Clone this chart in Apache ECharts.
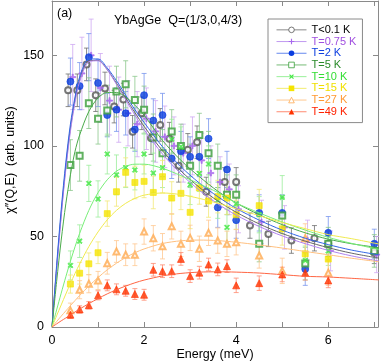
<!DOCTYPE html>
<html>
<head>
<meta charset="utf-8">
<script src="https://cdn.jsdelivr.net/npm/echarts@6/dist/echarts.min.js"></script>
<style>
  html, body { margin: 0; padding: 0; background: #fff; }
  #chart { width: 381px; height: 364px; }
</style>
</head>
<body>
<div id="chart"></div>
<script>
const energy = [0.4, 0.6, 0.8, 1.0, 1.2, 1.4, 1.6, 1.8, 2.0, 2.2, 2.4, 2.6, 2.8, 3.0, 3.2, 3.4, 3.6, 3.8, 4.0, 4.5, 5.0, 5.5, 6.0, 7.0]
const energyT01 = [0.35, 0.55, 0.75, 0.95, 1.15, 1.35, 1.55, 1.75, 1.95, 2.15, 2.35, 2.55, 2.75, 2.95, 3.15, 3.35, 3.75, 4.0, 4.3, 4.7, 5.2, 5.7, 6.0, 7.0]
const energyT075 = [0.45, 0.65, 0.85, 1.05, 1.25, 1.45, 1.65, 1.85, 2.05, 2.25, 2.45, 2.65, 2.85, 3.05, 3.25, 3.45, 3.65, 3.85, 4.05, 4.55, 5.05, 5.55, 6.05, 7.05]

const chiT01 = [130.7, 130.7, 145, 128, 131.7, 121.7, 125.6, 107.8, 118, 104.3, 111.6, 104, 89, 97.8, 102, 74.7, 80, 80, 56, 51.4, 47.7, 49, 46, 41]
const errT01 = [9, 9, 9, 9, 9, 9, 9, 9, 9, 9, 9, 9, 9, 9, 9, 8, 8, 8, 7, 7, 7, 7, 7, 6]
const chiT075 = [138, 140, 150, 132, 125, 120, 118, 112, 115, 108, 105, 100, 96, 100, 92, 85, 80, 76, 65, 58, 55, 48, 42, 40]
const errT075 = [18, 20, 20, 19, 19, 18, 18, 18, 17, 17, 17, 16, 16, 16, 15, 15, 14, 14, 13, 12, 12, 11, 11, 10]
const chiT2 = [135.5, 133, 149, 134.7, 117, 120, 118, 109, 128, 114, 117, 93, 97, 94, 94, 104, 66, 87, 59, 63, 63, 32, 52, 46]
const errT2 = [13, 13, 13, 13, 12, 12, 12, 12, 12, 12, 12, 11, 11, 11, 11, 11, 11, 10, 10, 10, 10, 9, 9, 8]
const chiT5 = [89.4, 94.5, 123.6, 115, 119.5, 130, 134, 125.4, 120, 104.6, 96, 108, 100, 89, 106, 96, 89, 73, 73, 46, 61.5, 35, 46, 42]
const errT5 = [14, 14, 14, 14, 14, 14, 13, 13, 13, 13, 13, 12, 12, 12, 12, 12, 12, 11, 11, 10, 10, 9, 9, 9]
const chiT10 = [34, 47.4, 79.3, 70.7, 95.5, 84, 88, 86.7, 95.5, 85, 88, 103.7, 99.5, 78.6, 84.8, 90, 70, 55, 68, 62, 71.6, 36.7, 42, null]
const errT10 = [8, 9, 10, 10, 11, 11, 11, 11, 11, 11, 11, 11, 11, 11, 10, 10, 10, 10, 10, 10, 12, 8, 8, null]
const chiT15 = [23.7, 29.7, 34.9, 41, 62.6, 74.7, 85.4, 79.8, 80.4, 74.3, 83, 71.2, 73.8, 63.3, 76.8, 69.6, 72, 71.2, 62, 67, 54.2, 40.4, 37.5, null]
const errT15 = [5, 6, 6, 6, 7, 8, 8, 9, 9, 9, 9, 9, 9, 9, 9, 9, 9, 9, 8, 9, 9, 8, 8, null]
const chiT27 = [9.2, 20.6, 23.9, 25.7, 35.2, 41.7, 39.9, 39.9, 52.7, 49, 44.6, 55.6, 45.9, 49.2, 43.2, 52, 47.7, 45.9, 46.8, 39.5, 31, 49, 30, null]
const errT27 = [4, 5, 5, 5, 6, 6, 6, 6, 7, 7, 7, 7, 7, 7, 7, 7, 7, 7, 7, 7, 7, 8, 7, null]
const chiT49 = [6.8, 9.7, 12, 17.5, 23, 20.8, 20, 18.2, 17.8, 31.6, 30.8, 30.8, 37.6, 28.1, 30, 34.5, 31.8, 33.6, 23, 24.2, 29, 29.9, 25.7, null]
const errT49 = [2, 2, 2, 2.5, 3, 3, 3, 3, 3, 3.5, 3.5, 3.5, 3.5, 3.5, 3.5, 3.5, 3.5, 3.5, 4, 4, 4, 4, 4, null]

// fitted curves, sampled off the figure
const curveE = [0, 0.1, 0.2, 0.3, 0.4, 0.5, 0.6, 0.8, 1.0, 1.2, 1.4, 1.6, 1.8, 2.0, 2.4, 2.8, 3.2, 3.6, 4.0, 4.5, 5.0, 5.5, 6.0, 6.5, 7.1]
const fitT01 = [0, 32.5, 62.7, 88.8, 109.9, 125.7, 136.6, 147, 147.2, 142.1, 134.6, 126.5, 118.4, 110.8, 97.3, 86.2, 77.1, 69.6, 63.4, 56.9, 51.6, 47.4, 43.8, 40.8, 38]
const fitT075 = [0, 31, 61, 87, 108, 124, 135.5, 146.5, 147, 142, 134, 125.5, 117, 109, 95.5, 84.5, 75.5, 68, 61.8, 55.5, 50.3, 46, 42.3, 39.3, 36.4]
const fitT2 = [0, 34, 65, 91, 112, 127, 138, 148, 148, 143, 136, 128, 120, 113, 99.5, 88.5, 79.5, 72, 65.5, 59, 53.5, 49, 45.5, 42.5, 39.8]
const fitT5 = [0, 25, 48, 68, 84, 97, 106, 119, 126.5, 129.5, 129.5, 127, 122.5, 117, 103, 92, 83, 75, 68.5, 62, 56.5, 52, 48.5, 46, 43.8]
const fitT10 = [0, 9.4, 18.7, 27.7, 36.3, 44.3, 51.7, 64.4, 74.2, 81.3, 86, 88.7, 89.9, 89.9, 87.6, 83.6, 79, 74.3, 68.5, 63, 58, 53.5, 49.5, 46.2, 42.8]
const fitT15 = [0, 6.2, 12.2, 18.2, 24, 29.6, 34.8, 44.4, 52.5, 59.2, 64.4, 68.3, 71, 72.8, 74, 73.1, 71, 68.3, 65.3, 61.5, 57.7, 54.3, 51, 48.8, 45.8]
const fitT27 = [0, 3, 6, 8.9, 11.8, 14.6, 17.4, 22.6, 27.3, 31.6, 35.2, 38.4, 41, 43.1, 46.1, 47.6, 48, 47.7, 46.8, 45.3, 43.6, 41.7, 39.9, 38, 36]
const fitT49 = [0, 1.7, 3.4, 5, 6.7, 8.3, 9.9, 12.9, 15.7, 18.3, 20.6, 22.6, 24.4, 25.9, 28.2, 29.6, 30.3, 30.5, 30.3, 29.8, 28.9, 28, 27.6, 26.9, 26]

const xTicks = [0, 2, 4, 6]
const yTicks = [0, 50, 100, 150]

const font = 'Liberation Sans, Arial, Helvetica, sans-serif'
const plusPath = 'path://M4,0H6V4H10V6H6V10H4V6H0V4H4Z'

const sets = [
  { name: 'T<0.1 K', e: energyT01, y: chiT01, err: errT01, fit: fitT01, symbol: 'emptyCircle', rot: 0, size: 6,
    mark: '#555', line: '#666', key: '#8a8a8a', bar: '#707070', text: '#000' },
  { name: 'T=0.75 K', e: energyT075, y: chiT075, err: errT075, fit: fitT075, symbol: plusPath, rot: 0, size: 6,
    mark: '#a868ee', line: '#b080ee', key: '#c09af0', bar: '#cfa8f2', text: '#a050e0' },
  { name: 'T=2 K', e: energy, y: chiT2, err: errT2, fit: fitT2, symbol: 'circle', rot: 0, size: 7,
    mark: '#0a3de0', line: '#3366e6', key: '#6688ee', bar: '#7896ee', text: '#1040e0' },
  { name: 'T=5 K', e: energy, y: chiT5, err: errT5, fit: fitT5, symbol: 'emptyRect', rot: 0, size: 6,
    mark: '#3a9e3a', line: '#4aaa4a', key: '#77bb77', bar: '#8cc88c', text: '#2a8a2a' },
  { name: 'T=10 K', e: energy, y: chiT10, err: errT10, fit: fitT10, symbol: plusPath, rot: 45, size: 6,
    mark: '#44e844', line: '#77ee77', key: '#99f099', bar: '#9cee9c', text: '#33dd33' },
  { name: 'T=15 K', e: energy, y: chiT15, err: errT15, fit: fitT15, symbol: 'rect', rot: 0, size: 6,
    mark: '#f5e400', line: '#f0ea50', key: '#f2ec70', bar: '#f2e878', text: '#f0e000' },
  { name: 'T=27 K', e: energy, y: chiT27, err: errT27, fit: fitT27, symbol: 'emptyTriangle', rot: 0, size: 6,
    mark: '#ffaa50', line: '#ffc080', key: '#ffc890', bar: '#ffc890', text: '#ff9933' },
  { name: 'T=49 K', e: energy, y: chiT49, err: errT49, fit: fitT49, symbol: 'triangle', rot: 0, size: 7,
    mark: '#ff3300', line: '#ff6644', key: '#ff8a70', bar: '#ff8a70', text: '#ff2200' }
]

const isOpen = s => s.symbol.indexOf('empty') === 0
// the legend icon gets the plain shape, outlined thinly for the open markers
const keyShape = s => (isOpen(s) ? s.symbol.replace('empty', '').toLowerCase() : s.symbol)

function errorBars(s) {
  const rows = []
  s.e.forEach((x, i) => {
    if (s.y[i] == null) return
    rows.push([x, s.y[i] - s.err[i], s.y[i] + s.err[i]])
  })
  return {
    name: s.name,
    type: 'custom',
    z: 1,
    silent: true,
    data: rows,
    renderItem(params, api) {
      const top = api.coord([api.value(0), api.value(2)])
      const bot = api.coord([api.value(0), api.value(1)])
      const style = { stroke: s.bar, lineWidth: 0.8 }
      return {
        type: 'group',
        children: [
          { type: 'line', shape: { x1: top[0], y1: top[1], x2: bot[0], y2: bot[1] }, style },
          { type: 'line', shape: { x1: top[0] - 2.5, y1: top[1], x2: top[0] + 2.5, y2: top[1] }, style },
          { type: 'line', shape: { x1: bot[0] - 2.5, y1: bot[1], x2: bot[0] + 2.5, y2: bot[1] }, style }
        ]
      }
    }
  }
}

const series = []
sets.forEach(s => {
  // fit line goes first so the legend takes its icon from it
  series.push({
    name: s.name,
    type: 'line',
    z: 3,
    smooth: 0.3,
    showSymbol: false,
    symbol: keyShape(s),
    symbolRotate: s.rot,
    color: s.mark,
    lineStyle: { color: s.line, width: 1 },
    data: curveE.map((x, i) => [x, s.fit[i]])
  })
  series.push({
    name: s.name,
    type: 'scatter',
    z: 2,
    symbol: s.symbol,
    symbolRotate: s.rot,
    symbolSize: s.size,
    itemStyle: { color: s.mark, borderColor: s.mark, borderWidth: 0.8 },
    data: s.e.map((x, i) => [x, s.y[i]]).filter(p => p[1] != null)
  })
  series.push(errorBars(s))
})

const axisLine = { onZero: false, lineStyle: { color: '#8a8a8a', width: 1 } }
const axisTick = { inside: true, length: 5, lineStyle: { color: '#8a8a8a' } }

const chart = echarts.init(document.getElementById('chart'))
chart.setOption({
  animation: false,
  grid: { left: 52, top: 1, width: 328, height: 326 },
  legend: {
    left: 268,
    top: 19,
    orient: 'vertical',
    backgroundColor: '#fff',
    borderColor: '#8a8a8a',
    borderWidth: 1,
    borderRadius: 0,
    padding: [5, 6, 5, 8],
    itemGap: 0,
    itemWidth: 30,
    itemHeight: 7,
    textStyle: { fontSize: 11, lineHeight: 11.7, fontFamily: font },
    data: sets.map(s => ({
      name: s.name,
      textStyle: { color: s.text },
      lineStyle: { color: s.key, width: 1 },
      itemStyle: isOpen(s)
        ? { color: '#fff', borderColor: s.mark, borderWidth: 0.8 }
        : { color: s.mark, borderColor: s.mark, borderWidth: 0 }
    }))
  },
  xAxis: [{
    type: 'value', min: 0, max: 7.08, interval: 1, position: 'bottom',
    axisLine, axisTick, splitLine: { show: false },
    axisLabel: {
      color: '#000', fontSize: 12.5, fontFamily: font, margin: 7,
      formatter: v => (xTicks.indexOf(v) >= 0 ? String(v) : '')
    }
  }, {
    type: 'value', min: 0, max: 7.08, interval: 1, position: 'top',
    axisLine, axisTick, splitLine: { show: false }, axisLabel: { show: false }
  }],
  yAxis: [{
    type: 'value', min: 0, max: 180, interval: 50, position: 'left',
    axisLine, axisTick, splitLine: { show: false },
    axisLabel: {
      color: '#000', fontSize: 12.5, fontFamily: font, margin: 8, showMaxLabel: false,
      formatter: v => (yTicks.indexOf(v) >= 0 ? String(v) : '')
    }
  }, {
    type: 'value', min: 0, max: 180, interval: 50, position: 'right',
    axisLine, axisTick, splitLine: { show: false }, axisLabel: { show: false }
  }],
  graphic: [
    { type: 'text', left: 57, top: 7, style: { text: '(a)', fontSize: 12.5, fontFamily: font, fill: '#000' } },
    { type: 'text', left: 114, top: 14, style: { text: 'YbAgGe  Q=(1/3,0,4/3)', fontSize: 12.5, fontFamily: font, fill: '#000' } },
    { type: 'text', x: 11, y: 160, rotation: Math.PI / 2,
      style: { text: 'χ″(Q,E)  (arb. units)', fontSize: 12.5, fontFamily: font, fill: '#000', align: 'center', verticalAlign: 'middle' } },
    { type: 'text', x: 215, y: 355,
      style: { text: 'Energy (meV)', fontSize: 12.5, fontFamily: font, fill: '#000', align: 'center', verticalAlign: 'middle' } }
  ],
  series
})
</script>
</body>
</html>
